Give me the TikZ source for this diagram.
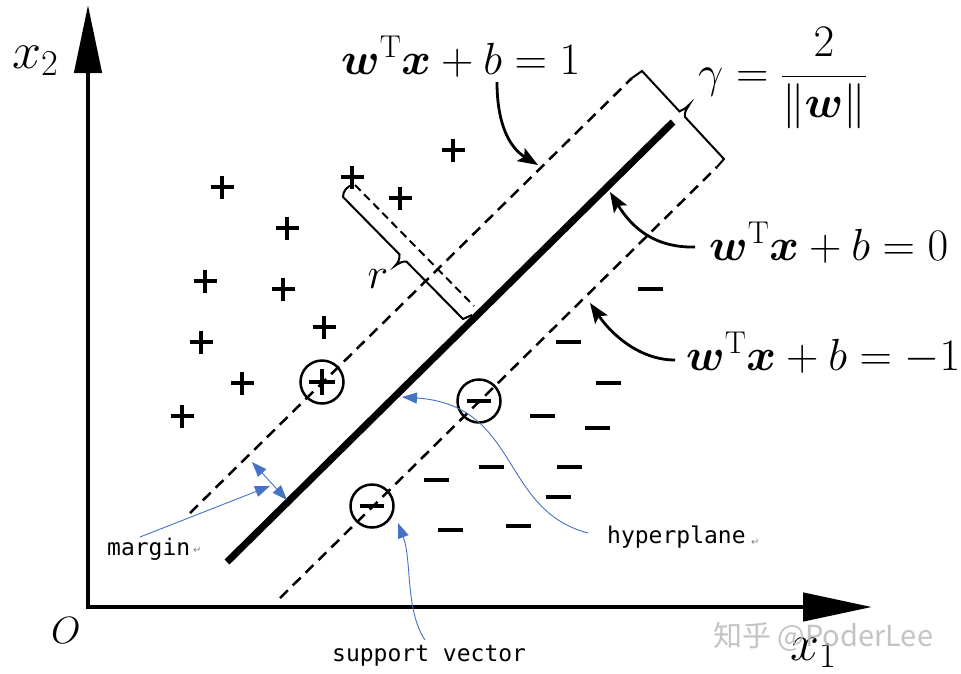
\RequirePackage{fix-cm}
\documentclass[tikz,border=0pt]{standalone}
\usepackage{bm}
\usepackage{fontspec}
\newfontfamily\monofont{DejaVu Sans Mono}
\newfontfamily\cjkfont{Noto Sans CJK SC}
\newfontfamily\symfont{DejaVu Sans}
\usetikzlibrary{arrows.meta,calc}
\definecolor{wordblue}{RGB}{68,114,196}
\definecolor{wmgray}{RGB}{185,185,185}
\tikzset{
  axisline/.style={line width=4.5pt, line join=miter},
  hyper/.style={line width=7pt},
  margline/.style={line width=2.5pt, dash pattern=on 11pt off 7pt},
  perpline/.style={line width=2pt, dash pattern=on 8pt off 5pt},
  bracketline/.style={line width=2pt, line join=miter},
  eqarrow/.style={line width=2.8pt, -{Stealth[length=20pt,width=15pt,inset=4pt]}},
  blueline/.style={draw=wordblue, line width=0.9pt},
  bluetip/.style={-{Triangle[length=15pt,width=11pt]}, wordblue},
  eq/.style={font=\fontsize{45}{52}\selectfont, inner sep=0pt, anchor=base west},
  axlabel/.style={font=\fontsize{52}{60}\selectfont, inner sep=0pt, anchor=base west},
  note/.style={font=\monofont\fontsize{23}{27}\selectfont, inner sep=0pt, anchor=base west},
  retmark/.style={font=\symfont\fontsize{10}{11}\selectfont, text=gray, inner sep=0pt, anchor=base west},
  plusmark/.style={line width=4.3pt},
  minusmark/.style={line width=4.8pt},
  svcircle/.style={circle, draw, line width=2.5pt, minimum size=43pt, inner sep=0pt},
}
\begin{document}
\begin{tikzpicture}[x=1pt,y=-1pt]
\useasboundingbox (0,0) rectangle (961,673);
\fill[white] (0,0) rectangle (961,673);

% axes
\coordinate (ytip) at (88,5);
\coordinate (org) at (88,607);
\coordinate (xtip) at (872,607);
\draw[axisline,{Triangle[length=68pt,width=27pt]}-{Triangle[length=69pt,width=28pt]}] (ytip) -- (org) -- (xtip);

% hyperplane and margin lines
\coordinate (H1) at (227,562); \coordinate (H2) at (673,122);
\coordinate (U1) at (190,513); \coordinate (U2) at (632,78);
\coordinate (L1) at (280,598); \coordinate (L2) at (717,167);
\draw[hyper] (H1) -- (H2);
\draw[margline] (U1) -- (U2);
\draw[margline] (L1) -- (L2);

% gamma bracket
\coordinate (G1) at (642,71); \coordinate (G2) at (724,159);
\draw[bracketline] (U2) -- (G1) -- (679.5,111.4)
  .. controls (683,110) and (686,108) .. (689.4,104.5)
  .. controls (686,110) and (684,113) .. (685.1,117.1) -- (G2) -- (L2);

% r distance
\coordinate (P0) at (355,185); \coordinate (P1) at (474,306);
\draw[perpline] (P0) -- (P1);
\draw[bracketline] (353,185) .. controls (347,186) and (343,191) .. (343,197)
  -- (399.5,254.4) .. controls (400,259) and (398,263) .. (395.2,265.7)
  .. controls (399,263) and (403,261) .. (406.5,261.6) -- (463,319) -- (472,315);
\node[font=\fontsize{44}{50}\selectfont, inner sep=0pt] (rlab) at (378,279) {$r$};

% plus points
\foreach \x/\y in {222/187,287/228,205/281,283/289,324/327,201/342,242/383,182/416,352/177,400/198,453/150}
  \draw[plusmark] (\x-11.5,\y) -- (\x+11.5,\y) (\x,\y-11.5) -- (\x,\y+11.5);
% minus points
\foreach \x/\y in {650/289,568/342,608/383,542/416,597/428,491/467,569/467,436/480,558/497,450/530,518/526}
  \draw[minusmark] (\x-12.5,\y) -- (\x+12.5,\y);

% support vectors
\node[svcircle] (svp) at (322,382) {};
\draw[plusmark] (309,382) -- (335,382) (322,369) -- (322,395);
\node[svcircle] (svm1) at (479,401) {};
\draw[minusmark] (467,401) -- (491,401);
\node[svcircle] (svm2) at (372,506) {};
\draw[minusmark] (360,506) -- (384,506);

% equations
\node[eq] (eqone) at (341,74) {$\bm{w}^{\mathrm{T}}\bm{x}+b=1$};
\node[eq] (eqzero) at (709,260) {$\bm{w}^{\mathrm{T}}\bm{x}+b=0$};
\node[eq] (eqmone) at (686,370) {$\bm{w}^{\mathrm{T}}\bm{x}+b=-1$};
\node[eq] (gam) at (698,87) {$\displaystyle\gamma=\frac{2}{\|\bm{w}\|}$};

% equation arrows
\coordinate (e1s) at (497,82); \coordinate (e1t) at (538,165);
\draw[eqarrow] (e1s) .. controls (497,125) and (510,148) .. (e1t);
\coordinate (e0s) at (695,247); \coordinate (e0t) at (610,192);
\draw[eqarrow] (e0s) .. controls (655,248) and (632,228) .. (e0t);
\coordinate (ems) at (675,360); \coordinate (emt) at (590,303);
\draw[eqarrow] (ems) .. controls (640,360) and (612,335) .. (emt);

% axis labels
\node[axlabel] (xtwo) at (12,68) {$x_2$};
\node[axlabel] (xone) at (790,660) {$x_1$};
\node[font=\fontsize{38}{44}\selectfont, inner sep=0pt, anchor=base west] (orig) at (51,643) {$O$};

% annotations
\node[note] (margintxt) at (107,555) {margin};
\node[retmark] (rm1) at (193,553) {↵};
\node[note] (hyptxt) at (607,543) {hyperplane};
\node[retmark] (rm2) at (751,545) {↵};
\node[note] (svtxt) at (332,661) {support vector};

\coordinate (ma) at (252,462); \coordinate (mb) at (287,500);
\draw[blueline,{Triangle[length=15pt,width=11pt]}-{Triangle[length=15pt,width=11pt]}] (ma) -- (mb);
\coordinate (mps) at (140,537); \coordinate (mpt) at (270,486);
\draw[blueline,bluetip] (mps) -- (mpt);
\coordinate (hps) at (588,533); \coordinate (hpt) at (402,397);
\draw[blueline,bluetip] (hps) .. controls (500,510) and (520,405) .. (hpt);
\coordinate (sps) at (425,640); \coordinate (spt) at (398,523);
\draw[blueline,bluetip] (sps) .. controls (405,610) and (412,560) .. (spt);

% watermark (overlaps the x1 label, as in the reference)
\node[font=\cjkfont\fontsize{29}{34}\selectfont, text=wmgray, inner sep=0pt, anchor=base west, opacity=0.85] (wm) at (713,646) {知乎 @PoderLee};
\end{tikzpicture}
\end{document}
